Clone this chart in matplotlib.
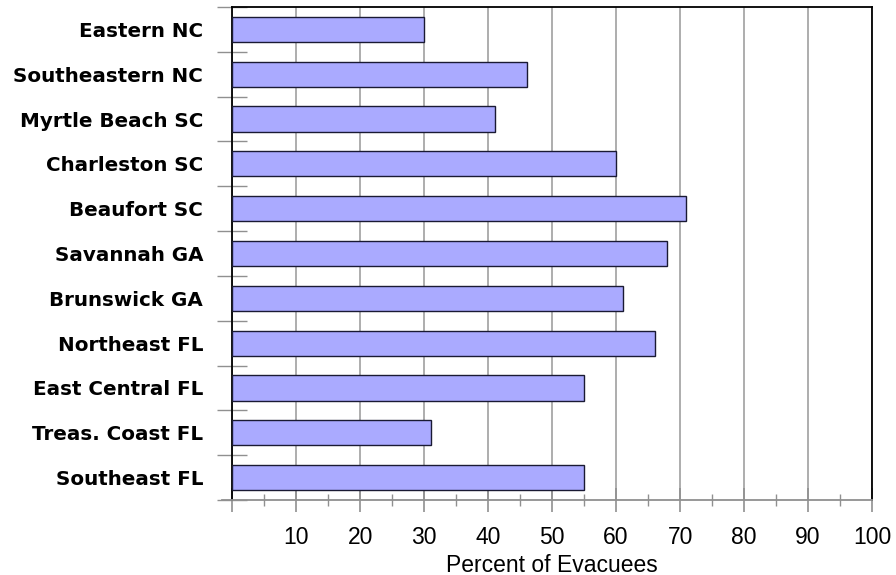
import matplotlib
matplotlib.use("Agg")
import matplotlib.pyplot as plt
from matplotlib.ticker import FixedLocator, MultipleLocator, NullFormatter
import numpy as np

regions = [
    "Eastern NC",
    "Southeastern NC",
    "Myrtle Beach SC",
    "Charleston SC",
    "Beaufort SC",
    "Savannah GA",
    "Brunswick GA",
    "Northeast FL",
    "East Central FL",
    "Treas. Coast FL",
    "Southeast FL",
]
percent_evacuees = [30, 46, 41, 60, 71, 68, 61, 66, 55, 31, 55]
x_ticks = [0, 10, 20, 30, 40, 50, 60, 70, 80, 90, 100]
x_tick_labels = ["", "10", "20", "30", "40", "50", "60", "70", "80", "90", "100"]

fig = plt.figure(figsize=(8.96, 5.75), dpi=100)
ax = fig.add_axes([232.3 / 896, 1 - 500 / 575, (872 - 232.3) / 896, (500 - 7) / 575])

y = np.arange(len(regions))
ax.barh(y, percent_evacuees, height=0.56, color="#aaaaff",
        edgecolor="#1a1a33", linewidth=1.0, zorder=3)

ax.set_xlim(0, 100)
ax.set_ylim(len(regions) - 0.5, -0.5)

# vertical grid at every 10
ax.set_xticks(x_ticks)
ax.set_xticklabels(x_tick_labels, family="Liberation Sans", fontsize=16.5)
ax.xaxis.set_minor_locator(MultipleLocator(5))
ax.xaxis.grid(True, which="major", color="#a0a0a0", linewidth=1.2, zorder=0)
ax.set_axisbelow(True)
ax.tick_params(axis="x", which="major", direction="inout", length=17,
               width=1.2, color="#909090", pad=10.5)
ax.tick_params(axis="x", which="minor", direction="inout", length=9,
               width=1.0, color="#909090")

# category labels with gray separators between rows
ax.set_yticks(y)
ax.set_yticklabels(regions, family="DejaVu Sans", fontweight="bold", fontsize=14.3)
ax.yaxis.set_minor_locator(FixedLocator(np.arange(-0.5, len(regions), 1.0)))
ax.yaxis.set_minor_formatter(NullFormatter())
ax.tick_params(axis="y", which="major", length=0, pad=21)
ax.tick_params(axis="y", which="minor", direction="inout", length=21,
               width=1.0, color="#909090")

for side in ("top", "right", "left"):
    ax.spines[side].set_color("black")
    ax.spines[side].set_linewidth(1.3)
ax.spines["bottom"].set_color("#909090")
ax.spines["bottom"].set_linewidth(1.3)
ax.spines["bottom"].set_bounds(-1.6, 100)

ax.set_xlabel("Percent of Evacuees", family="Liberation Sans", fontsize=16.5,
              labelpad=3)

fig.savefig("out.png", dpi=100)
